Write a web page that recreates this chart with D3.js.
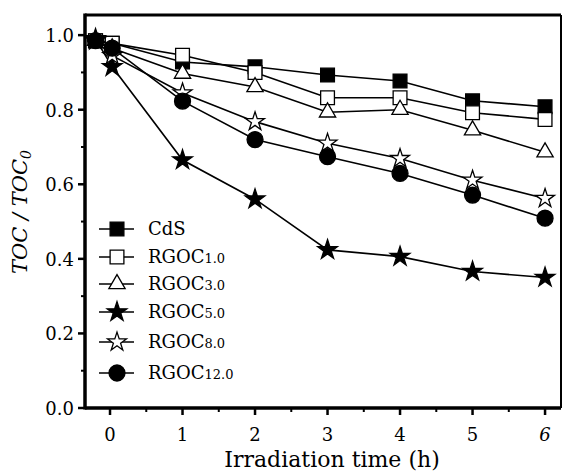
<!DOCTYPE html>
<html><head><meta charset="utf-8">
<script src="https://cdn.jsdelivr.net/npm/d3@7"></script>
<style>body{margin:0;background:#fff}svg{display:block}</style>
</head><body><svg id="c" width="564" height="474"></svg>
<script>
const times = [-0.2, 0.03, 1, 2, 3, 4, 5, 6];
const seriesNames = ["CdS", "RGOC", "RGOC", "RGOC", "RGOC", "RGOC"];
const seriesSubs = ["", "1.0", "3.0", "5.0", "8.0", "12.0"];
const cds    = [0.985, 0.978, 0.928, 0.915, 0.893, 0.877, 0.824, 0.808];
const rgoc1  = [0.985, 0.978, 0.946, 0.900, 0.832, 0.832, 0.792, 0.774];
const rgoc3  = [0.985, 0.965, 0.897, 0.861, 0.793, 0.800, 0.745, 0.686];
const rgoc5  = [0.990, 0.915, 0.665, 0.560, 0.424, 0.406, 0.366, 0.350];
const rgoc8  = [0.985, 0.945, 0.845, 0.768, 0.710, 0.669, 0.611, 0.562];
const rgoc12 = [0.985, 0.965, 0.823, 0.720, 0.674, 0.629, 0.571, 0.509];
const xTicks = [0, 1, 2, 3, 4, 5, 6];
const yTicks = [0.0, 0.2, 0.4, 0.6, 0.8, 1.0];

const F = "'DejaVu Serif', serif";
const allSeries = [cds, rgoc1, rgoc3, rgoc5, rgoc8, rgoc12];
const markers = [
  {type: d3.symbolSquare, size: 190, fill: "#000"},
  {type: d3.symbolSquare, size: 190, fill: "#fff"},
  {type: d3.symbolTriangle, size: 115, fill: "#fff"},
  {type: d3.symbolStar, size: 120, fill: "#000"},
  {type: d3.symbolStar, size: 110, fill: "#fff"},
  {type: d3.symbolCircle, size: 200, fill: "#000"}
];

const svg = d3.select("#c");
const L = 85, R = 561, T = 15, B = 408;
const x = d3.scaleLinear().domain([-0.345, 6.22]).range([L, R]);
const y = d3.scaleLinear().domain([0, 1.054]).range([B, T]);

svg.append("line").attr("x1", L).attr("x2", R).attr("y1", T).attr("y2", T).attr("stroke", "#000").attr("stroke-width", 3);
svg.append("line").attr("x1", R).attr("x2", R).attr("y1", T).attr("y2", B).attr("stroke", "#000").attr("stroke-width", 2);

const xMinor = [0.5, 1.5, 2.5, 3.5, 4.5, 5.5];
const gx = svg.append("g");
gx.selectAll(".maj").data(xTicks).join("line").attr("x1", d => x(d)).attr("x2", d => x(d)).attr("y1", B).attr("y2", B + 7).attr("stroke", "#000").attr("stroke-width", 2.5);
gx.selectAll(".min").data(xMinor).join("line").attr("x1", d => x(d)).attr("x2", d => x(d)).attr("y1", B).attr("y2", B + 4).attr("stroke", "#000").attr("stroke-width", 2);
gx.selectAll("text").data(xTicks).join("text").attr("x", d => x(d)).attr("y", 441).attr("text-anchor", "middle")
  .style("font", d => (d === 6 ? "italic " : "") + "18px " + F).text(d => d);

const yMinor = [0.1, 0.3, 0.5, 0.7, 0.9];
const gy = svg.append("g");
gy.selectAll(".maj").data(yTicks).join("line").attr("x1", L - 7).attr("x2", L).attr("y1", d => y(d)).attr("y2", d => y(d)).attr("stroke", "#000").attr("stroke-width", 2.5);
gy.selectAll(".min").data(yMinor).join("line").attr("x1", L - 4).attr("x2", L).attr("y1", d => y(d)).attr("y2", d => y(d)).attr("stroke", "#000").attr("stroke-width", 2);
gy.selectAll("text").data(yTicks).join("text").attr("x", 74).attr("y", d => y(d) + 7).attr("text-anchor", "end")
  .style("font", "18px " + F).text(d => d.toFixed(1));

svg.append("line").attr("x1", L).attr("x2", R).attr("y1", B).attr("y2", B).attr("stroke", "#000").attr("stroke-width", 3.5);
svg.append("line").attr("x1", L).attr("x2", L).attr("y1", T - 1.5).attr("y2", B + 1.5).attr("stroke", "#000").attr("stroke-width", 3.5);

svg.append("text").attr("x", 332).attr("y", 467).attr("text-anchor", "middle").style("font", "22px " + F).text("Irradiation time (h)");
const yt = svg.append("text").attr("transform", "translate(27,212) rotate(-90)").attr("text-anchor", "middle").style("font", "italic 21px " + F);
yt.append("tspan").text("TOC / TOC");
yt.append("tspan").style("font-size", "14px").attr("dy", 4).text("0");

const line = d3.line().x((d, i) => x(times[i])).y(d => y(d));
allSeries.forEach((s, k) => {
  svg.append("path").attr("d", line(s)).attr("fill", "none").attr("stroke", "#000").attr("stroke-width", 1.6);
});
allSeries.forEach((s, k) => {
  const m = markers[k];
  svg.append("g").selectAll("path").data(s).join("path")
    .attr("d", d3.symbol().type(m.type).size(m.size))
    .attr("transform", (d, i) => `translate(${x(times[i])},${y(d)})`)
    .attr("fill", m.fill).attr("stroke", "#000").attr("stroke-width", 1.3);
});

const legY = [229, 257, 284, 312, 342, 373];
const lg = svg.append("g");
seriesNames.forEach((n, k) => {
  const yy = legY[k];
  lg.append("line").attr("x1", 99).attr("x2", 134).attr("y1", yy).attr("y2", yy).attr("stroke", "#000").attr("stroke-width", 1.6);
  lg.append("path").attr("d", d3.symbol().type(markers[k].type).size(markers[k].size)).attr("transform", `translate(117,${yy})`)
    .attr("fill", markers[k].fill).attr("stroke", "#000").attr("stroke-width", 1.3);
  const t = lg.append("text").attr("x", 148).attr("y", yy + 6).style("font", "18px " + F);
  t.append("tspan").text(n);
  if (seriesSubs[k]) t.append("tspan").style("font-size", "13px").text(seriesSubs[k]);
});
</script></body></html>
